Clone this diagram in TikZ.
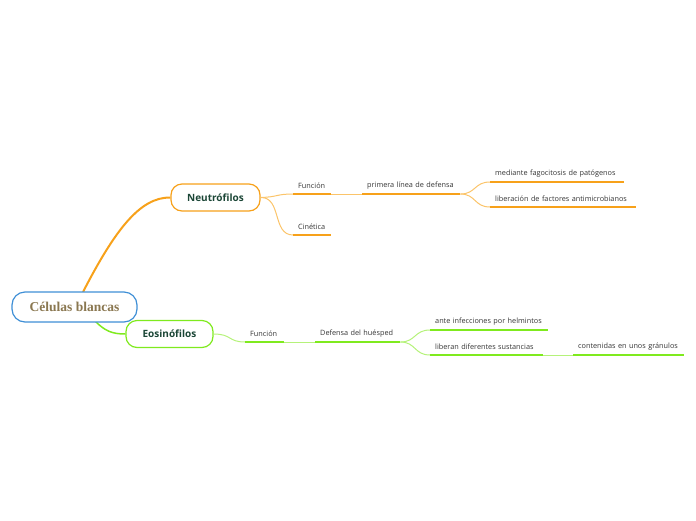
\documentclass[tikz,border=0pt]{standalone}
\usepackage{fontspec}
\setmainfont{Open Sans}
\newfontfamily\rootfont{Liberation Serif}
\definecolor{orng}{HTML}{F7A11A}
\definecolor{orngl}{HTML}{FBC46A}
\definecolor{grn}{HTML}{7FEA1E}
\definecolor{grnl}{HTML}{B5F27A}
\definecolor{rblue}{HTML}{3F8FD6}
\definecolor{rtext}{HTML}{8A7750}
\definecolor{dgreen}{HTML}{1B4636}
\tikzset{
  rootbox/.style={draw=rblue, line width=1.2pt, rounded corners=13pt, fill=white, minimum width=125pt, minimum height=30pt, font=\rootfont\bfseries\fontsize{13.5}{15}\selectfont, text=rtext},
  mainbox/.style={line width=1.2pt, rounded corners=11pt, fill=white, minimum height=27pt, font=\bfseries\fontsize{10}{12}\selectfont, text=dgreen},
  leaf/.style={anchor=south west, inner xsep=5pt, inner ysep=5pt, align=left, font=\fontsize{7.3}{8.5}\selectfont, text=black!80},
  uo/.style={orng, line width=2.2pt},
  ug/.style={grn, line width=2.2pt},
  co/.style={orngl, line width=1pt},
  cg/.style={grnl, line width=1pt},
}
\begin{document}
\begin{tikzpicture}[x=1pt,y=-1pt]
\useasboundingbox (0,0) rectangle (696,520);
% connectors from root (drawn first)
\coordinate (r1) at (83,292);
\coordinate (r2) at (95,321);
\node[mainbox, draw=orng, minimum width=89pt] (neu) at (215.5,197.5) {Neutrófilos};
\node[mainbox, draw=grn, minimum width=87pt] (eos) at (169.5,334) {Eosinófilos};
\draw[orng, line width=2pt] (r1) .. controls (115,230) and (140,197) .. (neu.west);
\draw[grn, line width=1.5pt] (r2) .. controls (105,331) and (112,334) .. (eos.west);
\node[rootbox] (root) at (74.5,307) {Células blancas};

% Neutrofilos branch
\node[leaf, text width=28pt] (nf) at (293,194) {Función};
\node[leaf, text width=28pt] (nc) at (293,235) {Cinética};
\node[leaf, text width=88pt] (np) at (362,194) {primera línea de defensa};
\node[leaf, text width=124pt] (nm) at (490,182) {mediante fagocitosis de patógenos};
\node[leaf, text width=136pt] (nl) at (490,207) {liberación de factores antimicrobianos};
\draw[co] (neu.east) .. controls (278,197) and (276,194) .. (nf.south west);
\draw[co] (neu.east) .. controls (282,197) and (272,235) .. (nc.south west);
\draw[co] (nf.south east) -- (np.south west);
\draw[co] (np.south east) .. controls (476,194) and (474,182) .. (nm.south west);
\draw[co] (np.south east) .. controls (476,194) and (474,207) .. (nl.south west);
\foreach \n in {nf,nc,np,nm,nl} \draw[uo] (\n.south west) -- (\n.south east);

% Eosinofilos branch
\node[leaf, text width=29pt] (ef) at (245,342) {Función};
\node[leaf, text width=75pt] (ed) at (315,342) {Defensa del huésped};
\node[leaf, text width=108pt] (ea) at (430,330) {ante infecciones por helmintos};
\node[leaf, text width=103pt] (el) at (430,355) {liberan diferentes sustancias};
\node[leaf, text width=101pt] (ec) at (573,355) {contenidas en unos gránulos};
\draw[cg] (eos.east) .. controls (232,334) and (228,342) .. (ef.south west);
\draw[cg] (ef.south east) -- (ed.south west);
\draw[cg] (ed.south east) .. controls (416,342) and (414,330) .. (ea.south west);
\draw[cg] (ed.south east) .. controls (416,342) and (414,355) .. (el.south west);
\draw[cg] (el.south east) -- (ec.south west);
\foreach \n in {ef,ed,ea,el,ec} \draw[ug] (\n.south west) -- (\n.south east);
\end{tikzpicture}
\end{document}
